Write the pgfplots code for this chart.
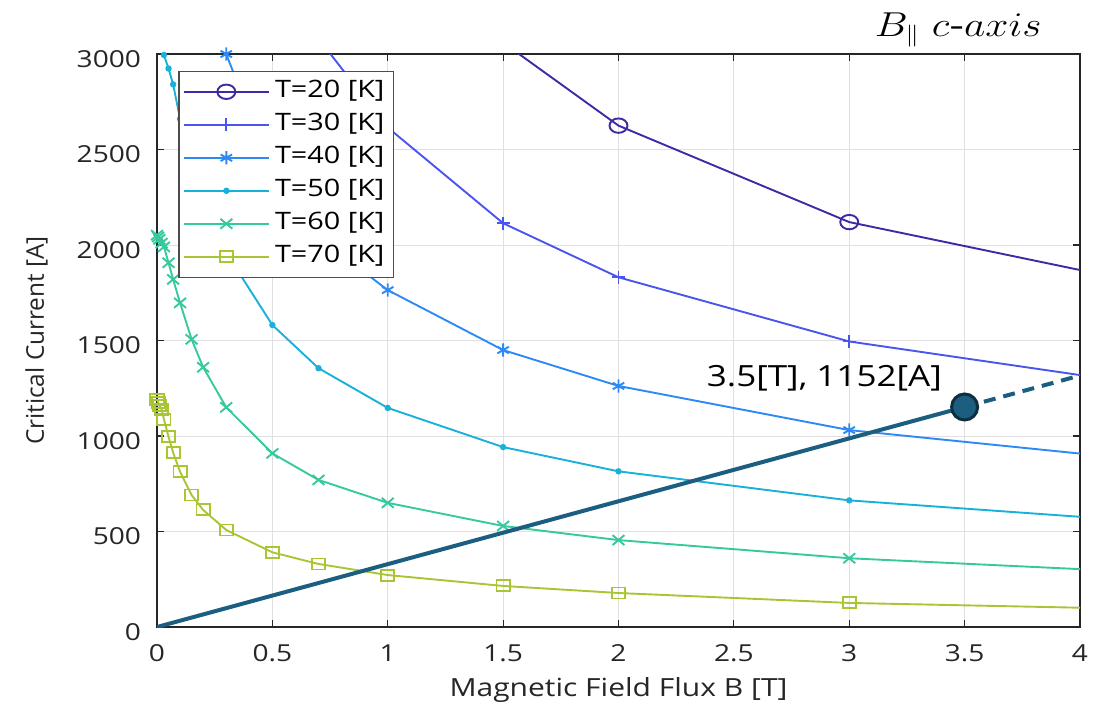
\documentclass[border=0pt]{standalone}
\usepackage{fontspec}
\setmainfont{Open Sans}[FakeStretch=1.2]
\newfontfamily\plainfont{Open Sans}
\usepackage{graphicx}
\usepackage{pgfplots}
\pgfplotsset{compat=1.18}
\definecolor{c20}{HTML}{3D2AA5}
\definecolor{c30}{HTML}{4A55EE}
\definecolor{c40}{HTML}{2D8AF5}
\definecolor{c50}{HTML}{19B1DA}
\definecolor{c60}{HTML}{37C99E}
\definecolor{c70}{HTML}{A8C534}
\definecolor{cload}{HTML}{1B5E80}
\definecolor{cedge}{HTML}{0E2F40}
\definecolor{axgray}{HTML}{262626}
\pgfplotsset{
  s20/.style={c20, line width=0.95pt, mark=o, mark size=3.6pt, mark options={solid, xscale=1.25}},
  s30/.style={c30, line width=0.95pt, mark=+, mark size=3.3pt, mark options={solid}},
  s40/.style={c40, line width=0.95pt, mark=asterisk, mark size=3.3pt, mark options={solid}},
  s50/.style={c50, line width=0.95pt, mark=*, mark size=1.1pt, mark options={solid}},
  s60/.style={c60, line width=0.95pt, mark=x, mark size=3.5pt, mark options={solid, xscale=1.2}},
  s70/.style={c70, line width=0.95pt, mark=square, mark size=2.75pt, mark options={solid, xscale=1.2}},
}
\begin{document}
\begin{tikzpicture}
\begin{axis}[
  scale only axis, width=461.5pt, height=286.5pt,
  xmin=0, xmax=4, ymin=0, ymax=3000,
  xtick={0,0.5,1,1.5,2,2.5,3,3.5,4},
  ytick={0,500,1000,1500,2000,2500,3000},
  grid=major, grid style={color=black!12, line width=0.5pt},
  axis line style={color=axgray, line width=0.6pt},
  tick style={color=axgray, line width=0.6pt},
  tick align=inside, major tick length=3.5pt,
  xtick pos=both, ytick pos=both,
  /pgf/number format/assume math mode=true,
  /pgf/number format/1000 sep={},
  scaled ticks=false,
  tick label style={font=\fontsize{11.7}{14}\selectfont, color=axgray},
  xticklabel style={anchor=center, yshift=-13pt},
  yticklabel style={anchor=east, xshift=-4.5pt, yshift=-2.5pt},
  xlabel={Magnetic Field Flux B [T]},
  ylabel={\plainfont Critical Current [A]},
  xlabel style={at={(axis description cs:0.5,-0.110)}, anchor=center, font=\fontsize{12.5}{15}\selectfont, color=axgray},
  ylabel style={at={(axis description cs:-0.1306,0.5)}, anchor=center, font=\fontsize{12.2}{15}\selectfont, color=axgray},
  clip mode=individual,
  legend style={at={(0.0231,0.9709)}, anchor=north west, draw=black!70, line width=0.6pt, fill=white,
    font=\fontsize{12}{14}\selectfont, inner xsep=2pt, inner ysep=2pt, row sep=0pt,
    nodes={inner sep=2.6pt, text height=8.7pt, text depth=2.6pt}},
  legend cell align=left,
  legend image code/.code={\draw[mark repeat=2,mark phase=2,#1] plot coordinates {(0pt,0pt) (21.25pt,0pt) (42.5pt,0pt)};},
]
% ---- lines (full data, clipped to the axis) ----
\addplot[forget plot, s20, no markers] coordinates {(0.5,5000) (0.7,4400) (1,3700) (1.5,3060) (2,2625) (3,2120) (5,1618)};
\addplot[forget plot, s30, no markers] coordinates {(0.5,3550) (0.7,3080) (1,2615) (1.5,2114) (2,1831) (3,1495) (5,1143)};
\addplot[forget plot, s40, no markers] coordinates {(0.1,4600) (0.15,4100) (0.2,3500) (0.3,3000) (0.5,2380) (0.7,2040) (1,1764) (1.5,1450) (2,1262) (3,1031) (5,785)};
\addplot[forget plot, s50, no markers] coordinates {(0,3200) (0.005,3150) (0.01,3110) (0.02,3050) (0.03,2995) (0.05,2924) (0.07,2841) (0.1,2660) (0.15,2450) (0.2,2260) (0.3,1960) (0.5,1581) (0.7,1355) (1,1147) (1.5,942) (2,815) (3,663) (5,491)};
\addplot[forget plot, s60, no markers] coordinates {(0,2052) (0.005,2042) (0.01,2030) (0.02,2010) (0.03,1990) (0.05,1907) (0.07,1820) (0.1,1697) (0.15,1506) (0.2,1360) (0.3,1150) (0.5,909) (0.7,770) (1,650) (1.5,529) (2,455) (3,360) (5,246)};
\addplot[forget plot, s70, no markers] coordinates {(0,1190) (0.005,1176) (0.01,1160) (0.02,1140) (0.03,1088) (0.05,996) (0.07,913) (0.1,813) (0.15,691) (0.2,613) (0.3,508) (0.5,391) (0.7,330) (1,272) (1.5,215) (2,178) (3,126) (5,76)};
% ---- markers at the points inside the axis ----
\addplot[forget plot, s20, only marks] coordinates {(2,2625) (3,2120)};
\addplot[forget plot, s30, only marks] coordinates {(1,2615) (1.5,2114) (2,1831) (3,1495)};
\addplot[forget plot, s40, only marks] coordinates {(0.3,3000) (0.5,2380) (0.7,2040) (1,1764) (1.5,1450) (2,1262) (3,1031)};
\addplot[forget plot, s50, only marks] coordinates {(0.03,2995) (0.05,2924) (0.07,2841) (0.1,2660) (0.15,2450) (0.2,2260) (0.3,1960) (0.5,1581) (0.7,1355) (1,1147) (1.5,942) (2,815) (3,663)};
\addplot[forget plot, s60, only marks] coordinates {(0,2052) (0.005,2042) (0.01,2030) (0.02,2010) (0.03,1990) (0.05,1907) (0.07,1820) (0.1,1697) (0.15,1506) (0.2,1360) (0.3,1150) (0.5,909) (0.7,770) (1,650) (1.5,529) (2,455) (3,360)};
\addplot[forget plot, s70, only marks] coordinates {(0,1190) (0.005,1176) (0.01,1160) (0.02,1140) (0.03,1088) (0.05,996) (0.07,913) (0.1,813) (0.15,691) (0.2,613) (0.3,508) (0.5,391) (0.7,330) (1,272) (1.5,215) (2,178) (3,126)};
% ---- load line ----
\addplot[forget plot, cload, line width=2pt] coordinates {(0,0) (3.5,1152)};
\addplot[forget plot, cload, line width=2pt, dash pattern=on 6pt off 4pt] coordinates {(3.5,1152) (4,1316.6)};
\addplot[forget plot, only marks, mark=*, mark size=6.5pt, mark options={fill=cload, draw=cedge, line width=1.5pt}] coordinates {(3.5,1152)};
\node[anchor=base east, inner sep=0pt, font=\fontsize{14.6}{18}\selectfont, text=black] at (axis cs:3.403,1258) {3.5[T], 1152[A]};
\node[anchor=base east, inner sep=0pt, text=black] at (axis cs:3.835,3091) {\scalebox{1.2}[1]{\fontsize{15.9}{19}\selectfont $B_{\|}\ c$-$axis$}};
% ---- legend ----
\addlegendimage{s20}
\addlegendimage{s30}
\addlegendimage{s40}
\addlegendimage{s50}
\addlegendimage{s60}
\addlegendimage{s70}
\legend{{T=20 [K]},{T=30 [K]},{T=40 [K]},{T=50 [K]},{T=60 [K]},{T=70 [K]}}
\end{axis}
\pgfresetboundingbox
\path[use as bounding box] (-78.5pt,-41pt) rectangle (473.5pt,313.5pt);
\end{tikzpicture}
\end{document}
